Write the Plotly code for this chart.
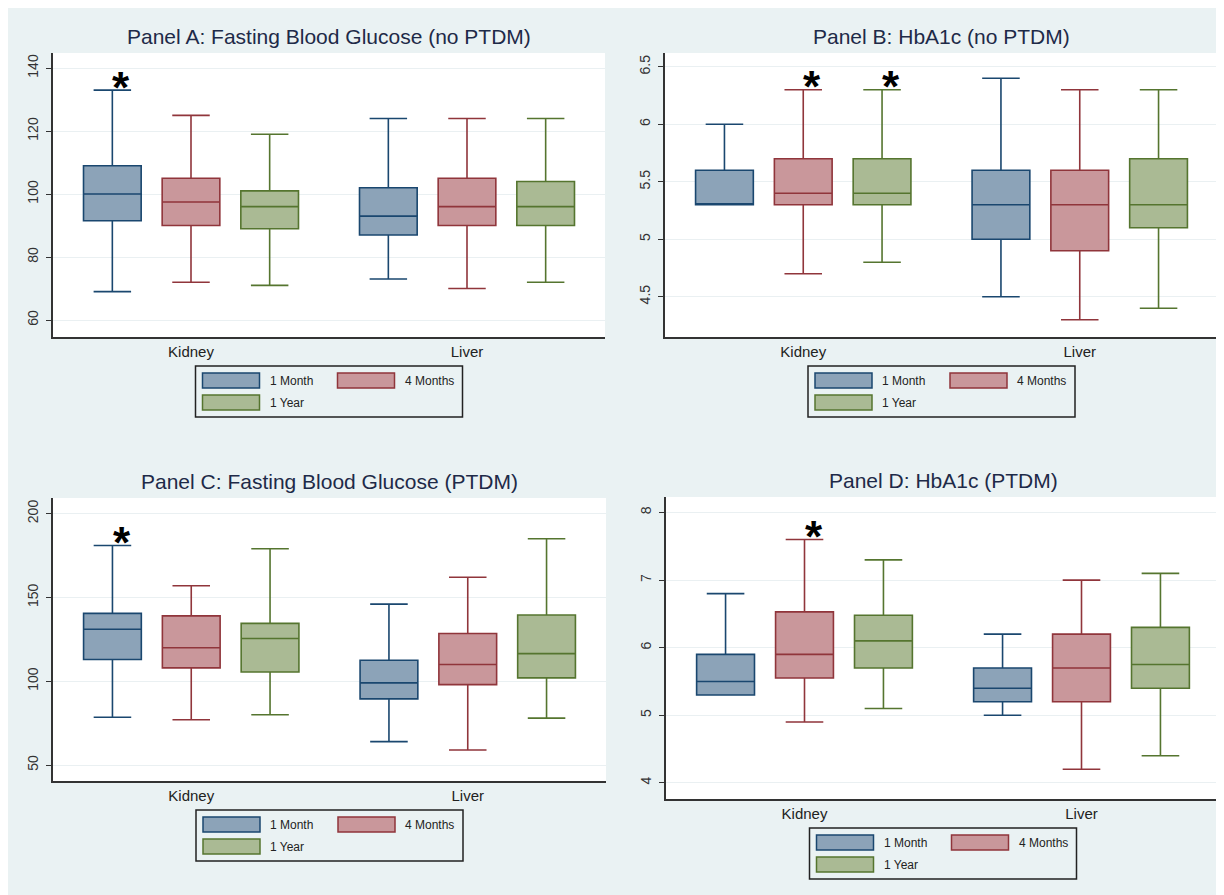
import plotly.graph_objects as go

# page body has an 8px margin, which supplies the white outer border of the reference
OFF = 8
W, H = 1224 - OFF, 895 - OFF

categories = ['Kidney', 'Liver']
series_names = ['1 Month', '4 Months', '1 Year']
panel_titles = ['Panel A: Fasting Blood Glucose (no PTDM)',
                'Panel B: HbA1c (no PTDM)',
                'Panel C: Fasting Blood Glucose (PTDM)',
                'Panel D: HbA1c (PTDM)']

# rows = series (1 Month, 4 Months, 1 Year), cols = categories (Kidney, Liver)
a_hi = [[133, 124], [125, 124], [119, 124]]
a_q3 = [[109, 102], [105, 105], [101, 104]]
a_med = [[100, 93], [97.5, 96], [96, 96]]
a_q1 = [[91.5, 87], [90, 90], [89, 90]]
a_lo = [[69, 73], [72, 70], [71, 72]]

b_hi = [[6.0, 6.4], [6.3, 6.3], [6.3, 6.3]]
b_q3 = [[5.6, 5.6], [5.7, 5.6], [5.7, 5.7]]
b_med = [[5.3, 5.3], [5.4, 5.3], [5.4, 5.3]]
b_q1 = [[5.3, 5.0], [5.3, 4.9], [5.3, 5.1]]
b_lo = [[5.3, 4.5], [4.7, 4.3], [4.8, 4.4]]

c_hi = [[181, 146], [157, 162], [179, 185]]
c_q3 = [[140.5, 112.5], [139, 128.5], [134.5, 139.5]]
c_med = [[131, 99], [120, 110], [125.5, 116.5]]
c_q1 = [[113, 89.5], [108, 98], [105.5, 102]]
c_lo = [[78.5, 64], [77, 59], [80, 78]]

d_hi = [[6.8, 6.2], [7.6, 7.0], [7.3, 7.1]]
d_q3 = [[5.9, 5.7], [6.53, 6.2], [6.48, 6.3]]
d_med = [[5.5, 5.4], [5.9, 5.7], [6.1, 5.75]]
d_q1 = [[5.3, 5.2], [5.55, 5.2], [5.7, 5.4]]
d_lo = [[5.3, 5.0], [4.9, 4.2], [5.1, 4.4]]

a_ticks = [60, 80, 100, 120, 140]
b_ticks = [4.5, 5, 5.5, 6, 6.5]
c_ticks = [50, 100, 150, 200]
d_ticks = [4, 5, 6, 7, 8]

# significance markers: (series index, category index)
a_stars = [(0, 0)]
b_stars = [(1, 0), (2, 0)]
c_stars = [(0, 0)]
d_stars = [(1, 0)]

panels = [
    dict(hi=a_hi, q3=a_q3, med=a_med, q1=a_q1, lo=a_lo, ticks=a_ticks, stars=a_stars,
         yrange=[54.6, 144.8], dom=(53, 605, 53, 337)),
    dict(hi=b_hi, q3=b_q3, med=b_med, q1=b_q1, lo=b_lo, ticks=b_ticks, stars=b_stars,
         yrange=[4.15, 6.62], dom=(665, 1218, 53, 337)),
    dict(hi=c_hi, q3=c_q3, med=c_med, q1=c_q1, lo=c_lo, ticks=c_ticks, stars=c_stars,
         yrange=[40.5, 209.3], dom=(53, 606, 498, 781)),
    dict(hi=d_hi, q3=d_q3, med=d_med, q1=d_q1, lo=d_lo, ticks=d_ticks, stars=d_stars,
         yrange=[3.76, 8.23], dom=(666, 1220, 497, 799)),
]

line_colors = ['#1A476F', '#90353B', '#55752F']
fill_colors = ['#8CA3B8', '#C9979B', '#AABA94']

FONT = 'Liberation Sans, Arial, sans-serif'
BG = '#EAF2F3'
BOXGAP = 0.145
BOXGROUPGAP = 0.267
SLOT = (1 - BOXGAP) / 3
STAR_DX = 0.033

fig = go.Figure()
shapes = []
annotations = []


def px(x):
    return (x - OFF) / W


def py(y):
    return 1 - (y - OFF) / H


for p, pan in enumerate(panels):
    sfx = '' if p == 0 else str(p + 1)
    xa, ya = 'x' + sfx, 'y' + sfx
    x0, x1, y0, y1 = pan['dom']
    for i in range(3):
        fig.add_trace(go.Box(
            x=categories,
            q1=pan['q1'][i], median=pan['med'][i], q3=pan['q3'][i],
            lowerfence=pan['lo'][i], upperfence=pan['hi'][i],
            name=series_names[i],
            fillcolor=fill_colors[i],
            line=dict(color=line_colors[i], width=1.6),
            whiskerwidth=0.65,
            boxpoints=False,
            showlegend=False,
            hoverinfo='skip',
            alignmentgroup='panel%d' % p,
            offsetgroup='s%d' % i,
            xaxis=xa, yaxis=ya,
        ))
    fig.update_layout(**{
        'xaxis' + sfx: dict(
            domain=[px(x0), px(x1)], anchor=ya, type='category',
            range=[-0.5, 1.5], showline=True, linecolor='#333333', linewidth=1.5,
            ticks='', ticklen=0, showgrid=False, zeroline=False,
            tickfont=dict(family=FONT, size=15, color='#222222'), fixedrange=True),
        'yaxis' + sfx: dict(
            domain=[py(y1), py(y0)], anchor=xa, range=pan['yrange'],
            tickvals=pan['ticks'], ticktext=[('%g' % t) for t in pan['ticks']],
            ticks='outside', ticklen=5, tickwidth=1.2, tickcolor='#333333',
            tickangle=-90, ticklabelstandoff=3,
            showline=True, linecolor='#333333', linewidth=1.5,
            showgrid=True, gridcolor='#EAF0F2', gridwidth=1, zeroline=False,
            tickfont=dict(family=FONT, size=14, color='#333333'), fixedrange=True),
    })
    # title
    annotations.append(dict(
        text=panel_titles[p], xref=xa + ' domain', yref=ya + ' domain',
        x=0.5, y=1, xanchor='center', yanchor='bottom', yshift=3, showarrow=False,
        font=dict(family=FONT, size=21, color='#1E2A48')))
    # asterisks
    for (si, ci) in pan['stars']:
        annotations.append(dict(
            text='<b>*</b>', xref=xa, yref=ya,
            x=ci + (si - 1) * SLOT + STAR_DX, y=pan['hi'][si][ci],
            xanchor='center', yanchor='middle', yshift=3, showarrow=False,
            font=dict(family=FONT, size=44, color='#000000')))
    # legend box
    cx = (x0 + x1) / 2
    L = cx - 133.5
    T = y1 + 29
    shapes.append(dict(type='rect', xref='paper', yref='paper',
                       x0=px(L), x1=px(L + 267), y0=py(T + 51), y1=py(T),
                       line=dict(color='#222222', width=1.5), fillcolor=BG))
    entries = [(0, 7, 7), (1, 142, 7), (2, 7, 29)]
    for (si, dx, dy) in entries:
        shapes.append(dict(type='rect', xref='paper', yref='paper',
                           x0=px(L + dx), x1=px(L + dx + 57),
                           y0=py(T + dy + 15), y1=py(T + dy),
                           line=dict(color=line_colors[si], width=1.5),
                           fillcolor=fill_colors[si]))
        annotations.append(dict(
            text=series_names[si], xref='paper', yref='paper',
            x=px(L + dx + 65), y=py(T + dy + 7.5), xanchor='left', yanchor='middle',
            showarrow=False, font=dict(family=FONT, size=12, color='#222222')))

fig.update_layout(
    width=W, height=H,
    margin=dict(l=0, r=0, t=0, b=0),
    paper_bgcolor=BG, plot_bgcolor='white',
    boxmode='group', boxgap=BOXGAP, boxgroupgap=BOXGROUPGAP,
    showlegend=False,
    shapes=shapes, annotations=annotations,
    font=dict(family=FONT),
)

fig.write_html('out.html')
